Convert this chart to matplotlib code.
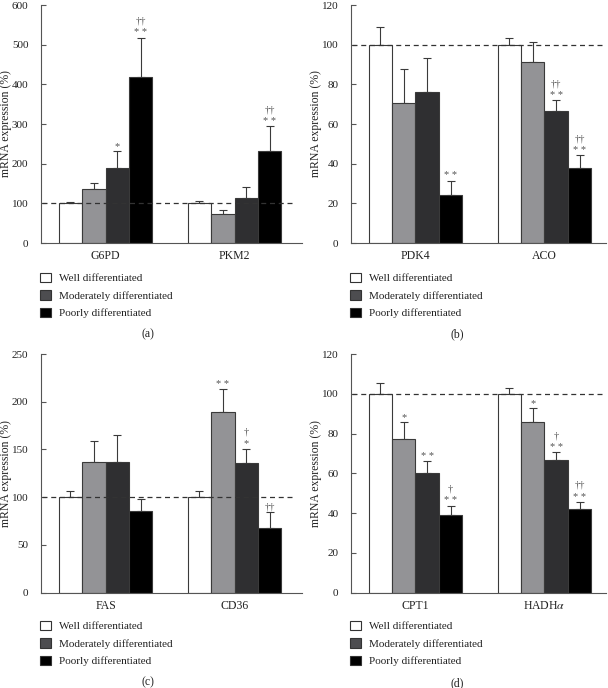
import matplotlib
matplotlib.use("Agg")
import matplotlib.pyplot as plt
from matplotlib.patches import Patch
import numpy as np

plt.rcParams['font.family'] = ['Liberation Serif', 'DejaVu Serif']
plt.rcParams['mathtext.fontset'] = 'stix'

# four bars per gene: white, light gray, dark gray, black
bar_colors = ['#ffffff', '#939396', '#2f2f31', '#000000']
legend_labels = ['Well differentiated', 'Moderately differentiated', 'Poorly differentiated']
legend_colors = ['#ffffff', '#4d4d50', '#000000']

# panel (a)
a_genes = ['G6PD', 'PKM2']
a_vals = [[100, 136, 189, 419], [100, 72, 114, 231]]
a_err = [[3.5, 16, 43, 99], [6, 11, 26, 64]]
a_marks = [(0, 2, ['*']), (0, 3, ['* *', '††']), (1, 3, ['* *', '††'])]
a_ticks = [0, 100, 200, 300, 400, 500, 600]

# panel (b)
b_genes = ['PDK4', 'ACO']
b_vals = [[100, 70.5, 75.9, 24.3], [100, 91.5, 66.7, 37.7]]
b_err = [[8.7, 17.1, 17.2, 7.2], [3.2, 9.7, 5.3, 6.5]]
b_marks = [(0, 3, ['* *']), (1, 2, ['* *', '††']), (1, 3, ['* *', '††'])]
b_ticks = [0, 20, 40, 60, 80, 100, 120]

# panel (c)
c_genes = ['FAS', 'CD36']
c_vals = [[100, 137, 137, 86], [100, 189, 136, 68]]
c_err = [[7, 22, 28, 12], [6, 24, 15, 17]]
c_marks = [(1, 1, ['* *']), (1, 2, ['*', '†']), (1, 3, ['††'])]
c_ticks = [0, 50, 100, 150, 200, 250]

# panel (d)
d_genes = ['CPT1', 'HADH$\\alpha$']
d_vals = [[100, 77.3, 60.1, 39], [100, 85.7, 66.8, 41.9]]
d_err = [[5.4, 8.4, 6.3, 4.8], [2.7, 7.1, 3.8, 3.9]]
d_marks = [(0, 1, ['*']), (0, 2, ['* *']), (0, 3, ['* *', '†']),
           (1, 1, ['*']), (1, 2, ['* *', '†']), (1, 3, ['* *', '††'])]
d_ticks = [0, 20, 40, 60, 80, 100, 120]

W, H = 608, 688
fig = plt.figure(figsize=(W / 100, H / 100), dpi=100)

width = 0.182
offsets = (np.arange(4) - 1.5) * width


def panel(rect, xmax, genes, vals, errs, marks, ticks, dash_end, label, leg_xy, lab_xy):
    ax = fig.add_axes(rect)
    x = np.arange(len(genes))
    vals = np.array(vals)
    errs = np.array(errs)
    for k in range(4):
        ax.bar(x + offsets[k], vals[:, k], width, color=bar_colors[k],
               edgecolor='#3a3a3a', linewidth=0.8, zorder=2)
        ax.errorbar(x + offsets[k], vals[:, k], yerr=[np.zeros(len(x)), errs[:, k]],
                    fmt='none', ecolor='#3a3a3a', elinewidth=0.8, capsize=2.6,
                    capthick=0.8, zorder=1)
    ax.hlines(100, -0.49, dash_end, colors='#333333', linestyles=(0, (4, 3)),
              linewidth=0.9, zorder=3)
    for g, k, syms in marks:
        top = vals[g, k] + errs[g, k]
        for i, s in enumerate(syms):
            ax.annotate(s, (x[g] + offsets[k], top), xytext=(0, 1.5 + 8.5 * i),
                        textcoords='offset points', ha='center', va='baseline',
                        fontsize=7.5, color='#555555')
    ax.set_xlim(-0.5, xmax)
    ax.set_ylim(0, ticks[-1])
    ax.set_yticks(ticks)
    ax.set_xticks(x)
    ax.set_xticklabels(genes)
    ax.tick_params(axis='x', length=0, pad=5, labelsize=8.5, colors='#222222')
    ax.tick_params(axis='y', direction='in', length=3.5, width=0.8, pad=9,
                   labelsize=8, colors='#555555', labelcolor='#222222')
    for side in ['top', 'right']:
        ax.spines[side].set_visible(False)
    for side in ['left', 'bottom']:
        ax.spines[side].set_color('#555555')
        ax.spines[side].set_linewidth(0.8)
    ax.set_ylabel('mRNA expression (%)', fontsize=8.5, color='#222222')
    handles = [Patch(facecolor=c, edgecolor='#333333', linewidth=0.8) for c in legend_colors]
    fig.legend(handles, legend_labels, loc='upper left', bbox_to_anchor=leg_xy,
               bbox_transform=fig.transFigure, frameon=False, fontsize=8,
               handlelength=0.95, handleheight=0.95, handletextpad=0.75,
               labelspacing=0.62, borderpad=0, borderaxespad=0, labelcolor='#222222')
    fig.text(lab_xy[0], lab_xy[1], label, ha='center', va='center', fontsize=8.5,
             color='#222222')
    return ax


ax_a = panel([41 / W, 1 - 243 / H, 261 / W, 238 / H], 1.523, a_genes, a_vals, a_err,
             a_marks, a_ticks, 1.457, '(a)', (40 / W, 1 - 272.5 / H), (148 / W, 1 - 334 / H))
ax_b = panel([351 / W, 1 - 243 / H, 255 / W, 238 / H], 1.477, b_genes, b_vals, b_err,
             b_marks, b_ticks, 1.477, '(b)', (350 / W, 1 - 272.5 / H), (457 / W, 1 - 334 / H))
ax_c = panel([41 / W, 1 - 592.7 / H, 261 / W, 238.7 / H], 1.523, c_genes, c_vals, c_err,
             c_marks, c_ticks, 1.457, '(c)', (40 / W, 1 - 620.5 / H), (148 / W, 1 - 682 / H))
ax_d = panel([351 / W, 1 - 592.7 / H, 255 / W, 238.7 / H], 1.477, d_genes, d_vals, d_err,
             d_marks, d_ticks, 1.477, '(d)', (350 / W, 1 - 620.5 / H), (457 / W, 1 - 683 / H))

for ax, xc in [(ax_a, -0.113), (ax_c, -0.113), (ax_b, -0.114), (ax_d, -0.114)]:
    ax.yaxis.set_label_coords(xc, 0.5)

fig.savefig('out.png', dpi=100)
